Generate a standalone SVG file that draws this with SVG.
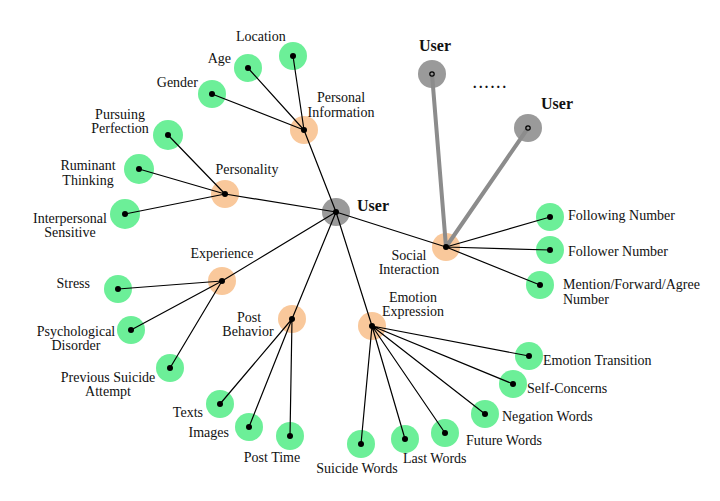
<svg xmlns="http://www.w3.org/2000/svg" width="720" height="501" viewBox="0 0 720 501">
<style>
text{font-size:14px;fill:#111}
.u{font-weight:bold;font-size:16px}
.g{fill:#6CEF98}
.o{fill:#F9C89B}
.k{fill:#9A9A9A}
.e{stroke:#000;stroke-width:1.2;fill:none}
.t{stroke:#8C8C8C;stroke-width:4;fill:none}
.d{fill:#000}
.m{text-anchor:middle}
.r{text-anchor:end}
</style>
<rect width="720" height="501" fill="#fff"/>
<g id="user"><circle class="k" cx="336" cy="212" r="14"/><text font-family="Liberation Serif" class="u" x="357" y="211">User</text></g>
<g id="user-top"><circle class="k" cx="432" cy="74" r="14"/><text font-family="Liberation Serif" class="u" x="419" y="51">User</text></g>
<g id="user-right"><circle class="k" cx="528" cy="128" r="14"/><text font-family="Liberation Serif" class="u" x="541" y="109">User</text></g>
<g id="ellipsis"><text font-family="Liberation Serif" x="473" y="88" font-weight="bold" letter-spacing="2.4">......</text></g>
<g id="personal-information"><circle class="o" cx="304" cy="130" r="14"/><text font-family="Liberation Serif" class="m" x="341" y="102">Personal</text><text font-family="Liberation Serif" class="m" x="341" y="117">Information</text></g>
<g id="location"><circle class="g" cx="293" cy="56" r="14"/><text font-family="Liberation Serif" x="236" y="41">Location</text></g>
<g id="age"><circle class="g" cx="248" cy="68" r="14"/><text font-family="Liberation Serif" class="r" x="231" y="63">Age</text></g>
<g id="gender"><circle class="g" cx="212" cy="94" r="14"/><text font-family="Liberation Serif" class="r" x="198" y="87">Gender</text></g>
<g id="personality"><circle class="o" cx="225" cy="194" r="14"/><text font-family="Liberation Serif" class="m" x="247" y="174">Personality</text></g>
<g id="pursuing-perfection"><circle class="g" cx="168" cy="135" r="15"/><text font-family="Liberation Serif" class="m" x="120" y="119">Pursuing</text><text font-family="Liberation Serif" class="m" x="120" y="133">Perfection</text></g>
<g id="ruminant-thinking"><circle class="g" cx="139" cy="169" r="15"/><text font-family="Liberation Serif" class="m" x="88" y="170">Ruminant</text><text font-family="Liberation Serif" class="m" x="88" y="185">Thinking</text></g>
<g id="interpersonal-sensitive"><circle class="g" cx="125" cy="214" r="15"/><text font-family="Liberation Serif" class="m" x="70" y="223">Interpersonal</text><text font-family="Liberation Serif" class="m" x="70" y="237">Sensitive</text></g>
<g id="experience"><circle class="o" cx="222" cy="281" r="14"/><text font-family="Liberation Serif" class="m" x="222" y="258">Experience</text></g>
<g id="stress"><circle class="g" cx="118" cy="289" r="14"/><text font-family="Liberation Serif" class="r" x="90" y="288">Stress</text></g>
<g id="psychological-disorder"><circle class="g" cx="131" cy="330" r="14"/><text font-family="Liberation Serif" class="m" x="76" y="336">Psychological</text><text font-family="Liberation Serif" class="m" x="76" y="350">Disorder</text></g>
<g id="previous-suicide-attempt"><circle class="g" cx="170" cy="368" r="14"/><text font-family="Liberation Serif" class="m" x="108" y="382">Previous Suicide</text><text font-family="Liberation Serif" class="m" x="108" y="396">Attempt</text></g>
<g id="post-behavior"><circle class="o" cx="292" cy="319" r="14"/><text font-family="Liberation Serif" class="m" x="249" y="322">Post</text><text font-family="Liberation Serif" class="m" x="248" y="336">Behavior</text></g>
<g id="texts"><circle class="g" cx="220" cy="404" r="14"/><text font-family="Liberation Serif" class="r" x="203" y="417">Texts</text></g>
<g id="images"><circle class="g" cx="249" cy="427" r="14"/><text font-family="Liberation Serif" class="r" x="229" y="437">Images</text></g>
<g id="post-time"><circle class="g" cx="290" cy="436" r="14"/><text font-family="Liberation Serif" class="m" x="272" y="462">Post Time</text></g>
<g id="emotion-expression"><circle class="o" cx="372" cy="326" r="14"/><text font-family="Liberation Serif" class="m" x="413" y="302">Emotion</text><text font-family="Liberation Serif" class="m" x="413" y="316">Expression</text></g>
<g id="emotion-transition"><circle class="g" cx="529" cy="356" r="14"/><text font-family="Liberation Serif" x="543" y="365">Emotion Transition</text></g>
<g id="self-concerns"><circle class="g" cx="513" cy="384" r="14"/><text font-family="Liberation Serif" x="527" y="393">Self-Concerns</text></g>
<g id="negation-words"><circle class="g" cx="485" cy="414" r="14"/><text font-family="Liberation Serif" x="502" y="421">Negation Words</text></g>
<g id="future-words"><circle class="g" cx="445" cy="433" r="14"/><text font-family="Liberation Serif" x="466" y="445">Future Words</text></g>
<g id="last-words"><circle class="g" cx="405" cy="439" r="14"/><text font-family="Liberation Serif" x="403" y="463">Last Words</text></g>
<g id="suicide-words"><circle class="g" cx="361" cy="444" r="14"/><text font-family="Liberation Serif" class="m" x="357" y="473">Suicide Words</text></g>
<g id="social-interaction"><circle class="o" cx="446" cy="247" r="14"/><text font-family="Liberation Serif" class="m" x="409" y="260">Social</text><text font-family="Liberation Serif" class="m" x="409" y="274">Interaction</text></g>
<g id="following-number"><circle class="g" cx="550" cy="217" r="14"/><text font-family="Liberation Serif" x="568" y="220">Following Number</text></g>
<g id="follower-number"><circle class="g" cx="550" cy="250" r="14"/><text font-family="Liberation Serif" x="568" y="256">Follower Number</text></g>
<g id="mention-number"><circle class="g" cx="540" cy="285" r="14"/><text font-family="Liberation Serif" x="563" y="289">Mention/Forward/Agree</text><text font-family="Liberation Serif" x="563" y="304">Number</text></g>
<g id="connectors">
<path class="t" d="M446 247L432 74M446 247L528 128"/>
<path class="e" d="M336 212L304 130M304 130L293 56M304 130L248 68M304 130L212 94
M336 212L225 194M225 194L168 135M225 194L139 169M225 194L125 214
M336 212L222 281M222 281L118 289M222 281L131 330M222 281L170 368
M336 212L292 319M292 319L220 404M292 319L249 427M292 319L290 436
M336 212L372 326M372 326L529 356M372 326L513 384M372 326L485 414M372 326L445 433M372 326L405 439M372 326L361 444
M336 212L446 247M446 247L550 217M446 247L550 250M446 247L540 285"/>
</g>
<g id="node-dots" class="d">
<circle cx="336" cy="212" r="3"/><circle cx="304" cy="130" r="3"/><circle cx="293" cy="56" r="3"/><circle cx="248" cy="68" r="3"/><circle cx="212" cy="94" r="3"/>
<circle cx="225" cy="194" r="3"/><circle cx="168" cy="135" r="3"/><circle cx="139" cy="169" r="3"/><circle cx="125" cy="214" r="3"/>
<circle cx="222" cy="281" r="3"/><circle cx="118" cy="289" r="3"/><circle cx="131" cy="330" r="3"/><circle cx="170" cy="368" r="3"/>
<circle cx="292" cy="319" r="3"/><circle cx="220" cy="404" r="3"/><circle cx="249" cy="427" r="3"/><circle cx="290" cy="436" r="3"/>
<circle cx="372" cy="326" r="3"/><circle cx="529" cy="356" r="3"/><circle cx="513" cy="384" r="3"/><circle cx="485" cy="414" r="3"/><circle cx="445" cy="433" r="3"/><circle cx="405" cy="439" r="3"/><circle cx="361" cy="444" r="3"/>
<circle cx="446" cy="247" r="3"/><circle cx="550" cy="217" r="3"/><circle cx="550" cy="250" r="3"/><circle cx="540" cy="285" r="3"/>
<circle cx="432" cy="74" r="2.2" fill="none" stroke="#000" stroke-width="1.2"/><circle cx="528" cy="128" r="2.2" fill="none" stroke="#000" stroke-width="1.2"/>
</g>
</svg>
